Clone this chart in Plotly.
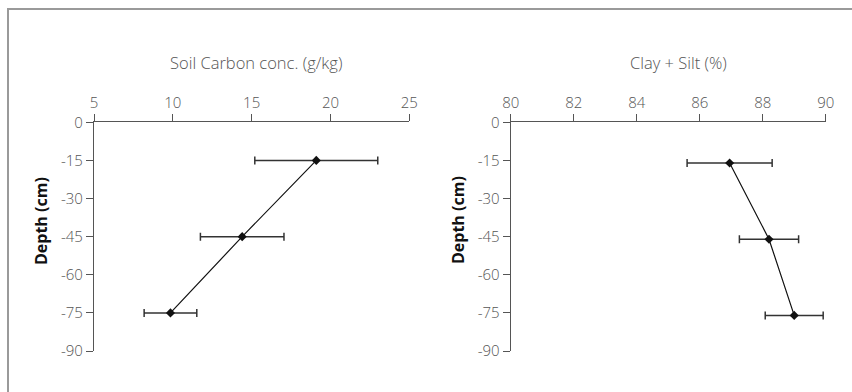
import plotly.graph_objects as go

# Data
carbon_depth = [-15, -45, -75]
carbon_conc = [19.1, 14.4, 9.85]
carbon_err = [3.9, 2.65, 1.67]

clay_depth = [-16, -46, -76]
clay_silt = [86.95, 88.2, 89.0]
clay_err = [1.35, 0.94, 0.92]

left_ticks = [5, 10, 15, 20, 25]
right_ticks = [80, 82, 84, 86, 88, 90]
depth_ticks = [0, -15, -30, -45, -60, -75, -90]

W, H = 852, 392
FONT = "Open Sans"
TXT = "#555555"
AX = "#555555"


def px(x):
    return x / W


def py(y):
    return 1 - y / H


fig = go.Figure()


def add_series(x, y, err, xa, ya):
    fig.add_trace(go.Scatter(
        x=x, y=y, mode="lines+markers",
        line=dict(color="#111111", width=1.2),
        marker=dict(symbol="diamond", size=7, color="#111111"),
        error_x=dict(type="data", array=err, visible=True, color="#333333",
                     thickness=1.5, width=4),
        xaxis=xa, yaxis=ya, showlegend=False, hoverinfo="skip"))


add_series(carbon_conc, carbon_depth, carbon_err, "x", "y")
add_series(clay_silt, clay_depth, clay_err, "x2", "y2")

tickfont = dict(family=FONT, size=15, color=TXT, weight=300)
ydom = [py(351), py(122.3)]
common_x = dict(side="top", showline=True, linecolor=AX, linewidth=1.2,
                ticks="outside", ticklen=7, tickcolor=AX, tickwidth=1.2,
                showgrid=False, zeroline=False, tickfont=tickfont,
                automargin=False)
common_y = dict(showline=True, linecolor=AX, linewidth=1.2,
                ticks="outside", ticklen=7, tickcolor=AX, tickwidth=1.2,
                showgrid=False, zeroline=False, range=[-90, 0],
                tickvals=depth_ticks, ticktext=[str(v) for v in depth_ticks],
                tickfont=tickfont, automargin=False)

titlefont = dict(family=FONT, size=16.5, color=TXT, weight=300)
depthfont = dict(family=FONT, size=16, color="#111111")


def label(text, x, y, font, angle=0):
    return dict(text=text, xref="paper", yref="paper", x=px(x), y=py(y),
                xanchor="center", yanchor="middle", showarrow=False,
                textangle=angle, font=font)


fig.update_layout(
    width=W, height=H, margin=dict(l=0, r=0, t=0, b=0, autoexpand=False),
    paper_bgcolor="white", plot_bgcolor="white",
    xaxis=dict(common_x, domain=[px(94), px(409.3)], range=[5, 25],
               tickvals=left_ticks, anchor="y"),
    yaxis=dict(common_y, domain=ydom, anchor="x"),
    xaxis2=dict(common_x, domain=[px(510.7), px(825.7)], range=[80, 90],
                tickvals=right_ticks, anchor="y2"),
    yaxis2=dict(common_y, domain=ydom, anchor="x2"),
    shapes=[dict(type="rect", xref="paper", yref="paper",
                 x0=px(8), x1=1.02, y0=-0.05, y1=py(9),
                 line=dict(color="#9a9a9a", width=2))],
    annotations=[
        label("Soil Carbon conc. (g/kg)", 256, 63, titlefont),
        label("Clay + Silt (%)", 678, 62, titlefont),
        label("<b>Depth (cm)</b>", 41, 221, depthfont, -90),
        label("<b>Depth (cm)</b>", 458, 220, depthfont, -90),
    ],
)

fig.write_html("out.html")
